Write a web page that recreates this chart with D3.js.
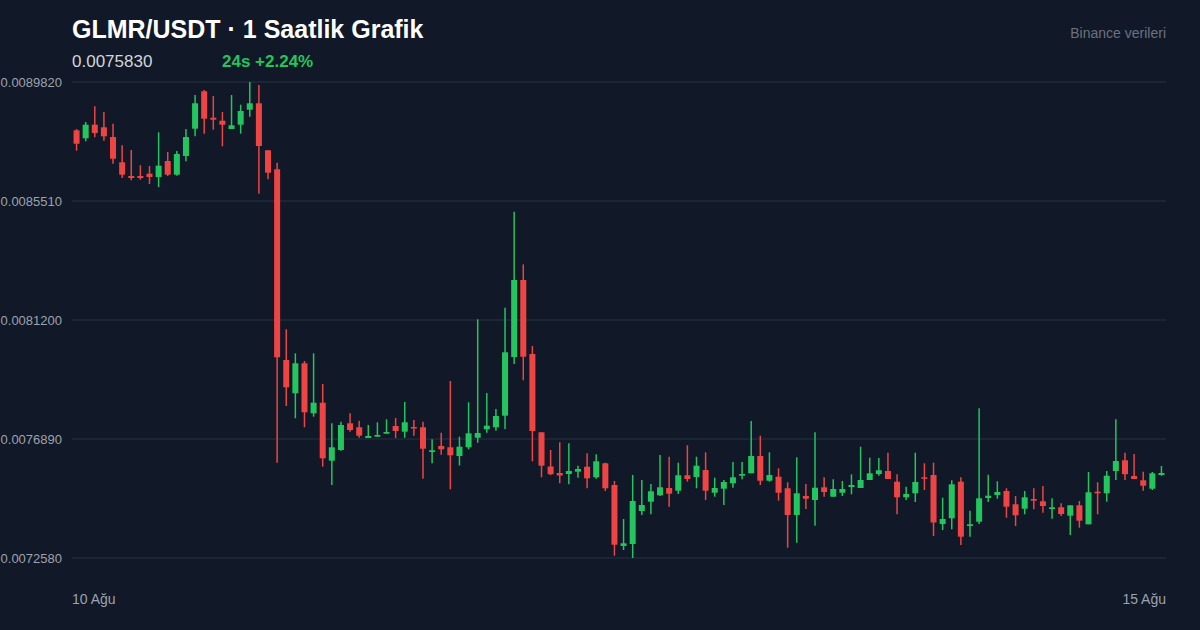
<!DOCTYPE html>
<meta charset="utf-8">
<style>
    body { margin: 0; background: #111827; }
    svg { display: block; font-family: "Liberation Sans", Arial, sans-serif; }
    .title { font-size: 25px; font-weight: bold; fill: #ffffff; }
    .price { font-size: 17px; fill: #d1d5db; }
    .change { font-size: 17px; font-weight: bold; fill: #22c55e; }
    .source { font-size: 14px; fill: #6b7280; }
    .tick-label { font-size: 13px; fill: #9ca3af; }
    .date-label { font-size: 14px; fill: #9ca3af; }
    .grid line { stroke: #1f2a3a; stroke-width: 1.5px; }
</style>
<svg width="1200" height="630"></svg>
<script src="https://d3js.org/d3.v7.min.js"></script>
<script>
    // hourly candles, 10 Ağu -> 15 Ağu
    const opens = [
        0.0088071, 0.0087781, 0.0088274, 0.0088179, 0.0087828, 0.0086912, 0.0086416, 0.0086416, 0.0086499, 0.0086379,
        0.0086959, 0.0086463, 0.0087140, 0.0088129, 0.0089483, 0.0088527, 0.0088418, 0.0088118, 0.0088274, 0.0088817,
        0.0089049, 0.0087346, 0.0086658, 0.0079751, 0.0078545, 0.0079632, 0.0077821, 0.0078205, 0.0076104, 0.0076492,
        0.0077459, 0.0077314, 0.0076926, 0.0076973, 0.0077082, 0.0077361, 0.0077155, 0.0077325, 0.0077314, 0.0076419,
        0.0076637, 0.0076590, 0.0076274, 0.0076590, 0.0076937, 0.0077241, 0.0077314, 0.0077734, 0.0079860, 0.0082649,
        0.0079969, 0.0077133, 0.0075894, 0.0075659, 0.0075622, 0.0075706, 0.0075887, 0.0075503, 0.0076010, 0.0075224,
        0.0073015, 0.0073087, 0.0074282, 0.0074619, 0.0074851, 0.0075116, 0.0075018, 0.0075576, 0.0075514, 0.0075767,
        0.0074945, 0.0075090, 0.0075286, 0.0075561, 0.0075648, 0.0076274, 0.0075380, 0.0075525, 0.0075105, 0.0074138,
        0.0074826, 0.0074681, 0.0075141, 0.0074800, 0.0074945, 0.0075152, 0.0075116, 0.0075405, 0.0075622, 0.0075731,
        0.0075344, 0.0074779, 0.0074924, 0.0075503, 0.0075586, 0.0073812, 0.0074018, 0.0075344, 0.0073739, 0.0073895,
        0.0074753, 0.0074862, 0.0075007, 0.0074525, 0.0074366, 0.0074717, 0.0074634, 0.0074355, 0.0074417, 0.0074112,
        0.0074489, 0.0073801, 0.0074982, 0.0074924, 0.0075731, 0.0076119, 0.0075550, 0.0075394, 0.0075090, 0.0075586
    ];
    const highs = [
        0.0088118, 0.0088371, 0.0088940, 0.0088733, 0.0088310, 0.0087527, 0.0087357, 0.0086803, 0.0086778, 0.0087998,
        0.0087285, 0.0087321, 0.0088118, 0.0089349, 0.0089530, 0.0089313, 0.0088733, 0.0089349, 0.0088998, 0.0089820,
        0.0089711, 0.0087346, 0.0086897, 0.0080863, 0.0079994, 0.0079715, 0.0079994, 0.0078882, 0.0077459, 0.0077517,
        0.0077821, 0.0077554, 0.0077397, 0.0077495, 0.0077604, 0.0077651, 0.0078230, 0.0077578, 0.0077517, 0.0076879,
        0.0077118, 0.0078991, 0.0076973, 0.0078219, 0.0081225, 0.0078556, 0.0077977, 0.0081646, 0.0085122, 0.0083217,
        0.0080258, 0.0077133, 0.0076492, 0.0076771, 0.0076734, 0.0075923, 0.0076372, 0.0076336, 0.0076032, 0.0075369,
        0.0073993, 0.0075586, 0.0075405, 0.0075260, 0.0076311, 0.0076249, 0.0076032, 0.0076662, 0.0076249, 0.0076409,
        0.0075488, 0.0075405, 0.0076057, 0.0076057, 0.0077542, 0.0077010, 0.0076409, 0.0075829, 0.0075322, 0.0076227,
        0.0075260, 0.0077133, 0.0075503, 0.0075431, 0.0075369, 0.0075612, 0.0076611, 0.0076213, 0.0076202, 0.0076394,
        0.0075612, 0.0075163, 0.0076394, 0.0076010, 0.0076032, 0.0074764, 0.0075394, 0.0075503, 0.0074293, 0.0078002,
        0.0075597, 0.0075358, 0.0075105, 0.0074826, 0.0075007, 0.0075105, 0.0075188, 0.0074742, 0.0074561, 0.0074489,
        0.0074645, 0.0075695, 0.0075322, 0.0075731, 0.0077604, 0.0076394, 0.0076347, 0.0075706, 0.0075695, 0.0075912
    ];
    const lows = [
        0.0087332, 0.0087672, 0.0087817, 0.0087694, 0.0086861, 0.0086343, 0.0086260, 0.0086282, 0.0086126, 0.0086017,
        0.0086416, 0.0086426, 0.0086948, 0.0087853, 0.0087948, 0.0088092, 0.0087491, 0.0088118, 0.0087948, 0.0088563,
        0.0085774, 0.0086296, 0.0076032, 0.0078085, 0.0077640, 0.0077314, 0.0077698, 0.0075887, 0.0075224, 0.0076466,
        0.0077155, 0.0076937, 0.0076926, 0.0076973, 0.0077082, 0.0076926, 0.0076937, 0.0077010, 0.0075452, 0.0076010,
        0.0076322, 0.0075068, 0.0075930, 0.0076517, 0.0076756, 0.0077118, 0.0077191, 0.0077252, 0.0079607, 0.0079016,
        0.0076082, 0.0075503, 0.0075586, 0.0075286, 0.0075249, 0.0075488, 0.0075105, 0.0075452, 0.0075007, 0.0072663,
        0.0072870, 0.0072580, 0.0074138, 0.0074163, 0.0074826, 0.0074438, 0.0074898, 0.0075344, 0.0075105, 0.0074681,
        0.0074800, 0.0074500, 0.0075126, 0.0075431, 0.0075648, 0.0075224, 0.0075344, 0.0074656, 0.0072953, 0.0073134,
        0.0074355, 0.0073750, 0.0074800, 0.0074800, 0.0074826, 0.0074887, 0.0075116, 0.0075405, 0.0075561, 0.0075442,
        0.0074163, 0.0074681, 0.0074608, 0.0075043, 0.0073377, 0.0073594, 0.0073620, 0.0073051, 0.0073352, 0.0073812,
        0.0074608, 0.0074728, 0.0074040, 0.0073739, 0.0074163, 0.0074344, 0.0074221, 0.0074004, 0.0074101, 0.0073413,
        0.0073678, 0.0073801, 0.0074163, 0.0074619, 0.0075405, 0.0075405, 0.0075442, 0.0075018, 0.0075043, 0.0075561
    ];
    const closes = [
        0.0087585, 0.0088274, 0.0087973, 0.0087853, 0.0087042, 0.0086463, 0.0086343, 0.0086343, 0.0086379, 0.0086789,
        0.0086463, 0.0087212, 0.0087828, 0.0089049, 0.0088491, 0.0088455, 0.0088274, 0.0088252, 0.0088770, 0.0089049,
        0.0087502, 0.0086535, 0.0079849, 0.0078763, 0.0079632, 0.0077857, 0.0078205, 0.0076191, 0.0076590, 0.0077397,
        0.0077216, 0.0077010, 0.0076999, 0.0077035, 0.0077144, 0.0077180, 0.0077495, 0.0077278, 0.0076539, 0.0076481,
        0.0076517, 0.0076300, 0.0076611, 0.0077097, 0.0077108, 0.0077372, 0.0077723, 0.0080030, 0.0082649, 0.0079871,
        0.0077180, 0.0075923, 0.0075615, 0.0075568, 0.0075731, 0.0075804, 0.0075467, 0.0076082, 0.0075105, 0.0073062,
        0.0073113, 0.0074645, 0.0074500, 0.0074996, 0.0075141, 0.0074909, 0.0075576, 0.0075442, 0.0075923, 0.0075018,
        0.0075116, 0.0075333, 0.0075503, 0.0075622, 0.0076274, 0.0075380, 0.0075586, 0.0074945, 0.0074138, 0.0074924,
        0.0074728, 0.0075126, 0.0074971, 0.0075079, 0.0075079, 0.0075224, 0.0075405, 0.0075648, 0.0075757, 0.0075442,
        0.0074779, 0.0074898, 0.0075333, 0.0075452, 0.0073866, 0.0073993, 0.0075249, 0.0073352, 0.0073801, 0.0074742,
        0.0074837, 0.0074971, 0.0074438, 0.0074127, 0.0074779, 0.0074656, 0.0074464, 0.0074417, 0.0074174, 0.0074489,
        0.0073931, 0.0074960, 0.0074924, 0.0075561, 0.0076093, 0.0075615, 0.0075442, 0.0075199, 0.0075648, 0.0075659
    ];
    const yTicks = [0.0072580, 0.0076890, 0.0081200, 0.0085510, 0.0089820];
    const dateLabels = ["10 Ağu", "15 Ağu"];
    const lastPrice = "0.0075830";
    const change24 = "24s +2.24%";

    const candles = opens.map((o, i) => ({ i: i, o: o, h: highs[i], l: lows[i], c: closes[i] }));

    const svg = d3.select("svg"),
        margin = { top: 82, right: 34, bottom: 72, left: 72 },
        width = +svg.attr("width") - margin.left - margin.right,
        height = +svg.attr("height") - margin.top - margin.bottom;

    svg.append("rect").attr("width", 1200).attr("height", 630).attr("fill", "#111827");

    const x = d3.scaleBand()
        .domain(candles.map(d => d.i))
        .range([margin.left, margin.left + width])
        .paddingInner(0.34)
        .paddingOuter(0.17);

    const y = d3.scaleLinear()
        .domain([d3.min(lows), d3.max(highs)])
        .range([margin.top + height, margin.top]);

    // gridlines + price labels
    const grid = svg.append("g").attr("class", "grid");
    grid.selectAll("line")
        .data(yTicks)
        .enter().append("line")
        .attr("x1", margin.left)
        .attr("x2", margin.left + width)
        .attr("y1", d => y(d))
        .attr("y2", d => y(d));

    svg.append("g").selectAll("text")
        .data(yTicks)
        .enter().append("text")
        .attr("class", "tick-label")
        .attr("x", 62)
        .attr("y", d => y(d))
        .attr("dy", "0.35em")
        .attr("text-anchor", "end")
        .text(d => d.toFixed(7));

    const up = "#22c55e", down = "#ef4444";
    const color = d => d.c >= d.o ? up : down;

    const g = svg.append("g");

    // wicks
    g.selectAll(".wick")
        .data(candles)
        .enter().append("line")
        .attr("class", "wick")
        .attr("x1", d => x(d.i) + x.bandwidth() / 2)
        .attr("x2", d => x(d.i) + x.bandwidth() / 2)
        .attr("y1", d => y(d.h))
        .attr("y2", d => y(d.l))
        .attr("stroke", color)
        .attr("stroke-width", 1.5);

    // bodies
    g.selectAll(".body")
        .data(candles)
        .enter().append("rect")
        .attr("class", "body")
        .attr("x", d => x(d.i))
        .attr("width", x.bandwidth())
        .attr("y", d => y(Math.max(d.o, d.c)))
        .attr("height", d => Math.max(1.5, Math.abs(y(d.o) - y(d.c))))
        .attr("fill", color);

    // header
    svg.append("text")
        .attr("class", "title")
        .attr("x", 72)
        .attr("y", 38)
        .text("GLMR/USDT · 1 Saatlik Grafik");

    svg.append("text")
        .attr("class", "price")
        .attr("x", 72)
        .attr("y", 67)
        .text(lastPrice);

    svg.append("text")
        .attr("class", "change")
        .attr("x", 222)
        .attr("y", 67)
        .text(change24);

    svg.append("text")
        .attr("class", "source")
        .attr("x", 1166)
        .attr("y", 38)
        .attr("text-anchor", "end")
        .text("Binance verileri");

    // date labels
    svg.append("text")
        .attr("class", "date-label")
        .attr("x", margin.left)
        .attr("y", 604)
        .text(dateLabels[0]);

    svg.append("text")
        .attr("class", "date-label")
        .attr("x", margin.left + width)
        .attr("y", 604)
        .attr("text-anchor", "end")
        .text(dateLabels[1]);
</script>
